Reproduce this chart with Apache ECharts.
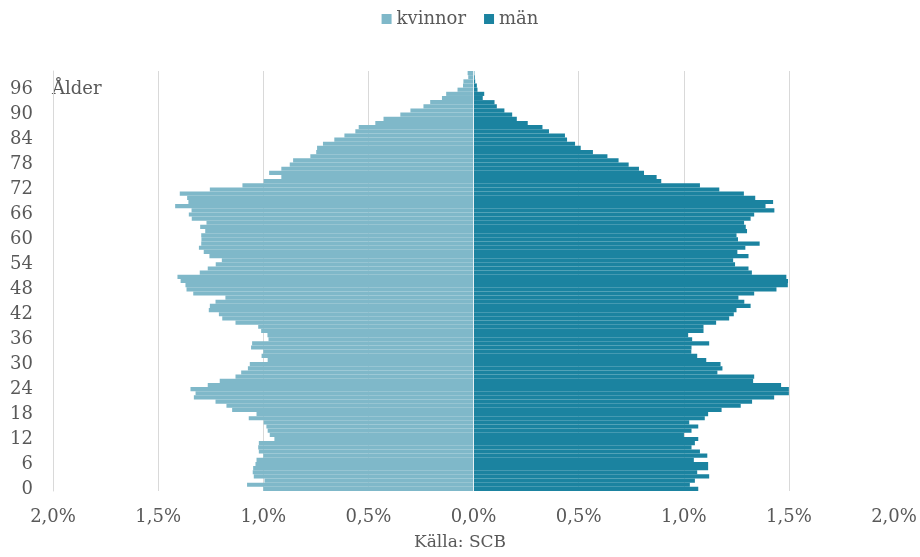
<!DOCTYPE html>
<html>
<head>
<meta charset="utf-8">
<script src="https://cdn.jsdelivr.net/npm/echarts@6/dist/echarts.min.js"></script>
<style>
html,body{margin:0;padding:0;background:#fff;}
#chart{width:920px;height:557px;}
</style>
</head>
<body>
<div id="chart"></div>
<script>
// Ages 0..100
const ages = Array.from({length: 101}, (_, i) => String(i));
// Share of population (%) per age, index = age
const kvinnor = [
  1.00, 1.077, 0.994, 1.045, 1.05, 1.048, 1.037, 1.032, 1.00, 1.021,
  1.024, 1.021, 0.947, 0.969, 0.979, 0.985, 0.998, 1.069, 1.032, 1.148,
  1.175, 1.227, 1.33, 1.322, 1.346, 1.264, 1.207, 1.132, 1.105, 1.073,
  1.064, 0.979, 1.008, 1.00, 1.058, 1.053, 0.975, 0.98, 1.01, 1.024,
  1.132, 1.195, 1.211, 1.259, 1.254, 1.227, 1.18, 1.333, 1.365, 1.37,
  1.393, 1.408, 1.302, 1.264, 1.226, 1.197, 1.256, 1.283, 1.306, 1.295,
  1.294, 1.295, 1.276, 1.30, 1.27, 1.34, 1.354, 1.341, 1.419, 1.356,
  1.362, 1.397, 1.254, 1.099, 0.998, 0.914, 0.972, 0.914, 0.874, 0.858,
  0.776, 0.748, 0.744, 0.716, 0.662, 0.614, 0.562, 0.546, 0.467, 0.428,
  0.348, 0.30, 0.238, 0.206, 0.15, 0.13, 0.076, 0.05, 0.048, 0.025,
  0.028
];
const man = [
  1.069, 1.029, 1.053, 1.121, 1.064, 1.116, 1.116, 1.048, 1.112, 1.077,
  1.037, 1.053, 1.069, 1.001, 1.037, 1.069, 1.026, 1.10, 1.116, 1.18,
  1.271, 1.325, 1.43, 1.50, 1.50, 1.463, 1.33, 1.335, 1.16, 1.184,
  1.175, 1.107, 1.064, 1.036, 1.037, 1.121, 1.04, 1.021, 1.094, 1.094,
  1.154, 1.216, 1.238, 1.251, 1.318, 1.288, 1.26, 1.335, 1.441, 1.495,
  1.496, 1.488, 1.324, 1.308, 1.244, 1.235, 1.308, 1.255, 1.293, 1.361,
  1.258, 1.251, 1.301, 1.295, 1.287, 1.318, 1.335, 1.431, 1.389, 1.425,
  1.34, 1.286, 1.169, 1.077, 0.893, 0.871, 0.811, 0.787, 0.738, 0.69,
  0.637, 0.568, 0.51, 0.483, 0.445, 0.435, 0.359, 0.328, 0.258, 0.206,
  0.184, 0.147, 0.111, 0.10, 0.044, 0.051, 0.019, 0.016, 0.008, 0.006,
  0.004
];
const seriesNames = ['kvinnor', 'män'];
const axisTitle = 'Ålder';
const sourceText = 'Källa: SCB';

const FONT = '"DejaVu Serif", Georgia, serif';
const TXT = '#595959';

const chart = echarts.init(document.getElementById('chart'), null, {renderer: 'canvas'});
chart.setOption({
  animation: false,
  textStyle: {fontFamily: FONT},
  legend: {
    top: 5,
    left: 'center',
    icon: 'rect',
    itemWidth: 10,
    itemHeight: 10,
    itemGap: 18,
    textStyle: {fontFamily: FONT, fontSize: 18, color: TXT},
    data: seriesNames
  },
  grid: {left: 53, right: 26, top: 71, bottom: 66, containLabel: false},
  xAxis: {
    type: 'value',
    min: -2, max: 2, interval: 0.5,
    axisLine: {show: false},
    axisTick: {show: false},
    splitLine: {show: true, showMinLine: true, showMaxLine: false, lineStyle: {color: '#d9d9d9', width: 1}},
    axisLabel: {
      fontFamily: FONT, fontSize: 18, color: TXT, margin: 17,
      formatter: v => Math.abs(v).toFixed(1).replace('.', ',') + '%'
    }
  },
  yAxis: {
    type: 'category',
    data: ages,
    axisLine: {show: true, onZero: false, lineStyle: {color: '#d9d9d9', width: 1}},
    axisTick: {show: false},
    axisLabel: {interval: 5, fontFamily: FONT, fontSize: 18, color: TXT, margin: 20}
  },
  graphic: [
    {type: 'text', left: 52, top: 80, style: {text: axisTitle, font: '18px ' + FONT, fill: TXT}},
    {type: 'text', left: 'center', top: 534, style: {text: sourceText, font: '17px ' + FONT, fill: TXT}}
  ],
  series: [
    {
      name: seriesNames[0], type: 'bar', barGap: '-100%', barCategoryGap: 0,
      itemStyle: {color: '#7fb8c9'},
      data: kvinnor.map(v => -v)
    },
    {
      name: seriesNames[1], type: 'bar', barGap: '-100%', barCategoryGap: 0,
      itemStyle: {color: '#1b83a0'},
      data: man,
      markLine: {
        silent: true, symbol: 'none', label: {show: false},
        lineStyle: {color: '#e6f0f3', width: 1, type: 'solid'},
        data: [{xAxis: 0}]
      }
    }
  ]
});
</script>
</body>
</html>
